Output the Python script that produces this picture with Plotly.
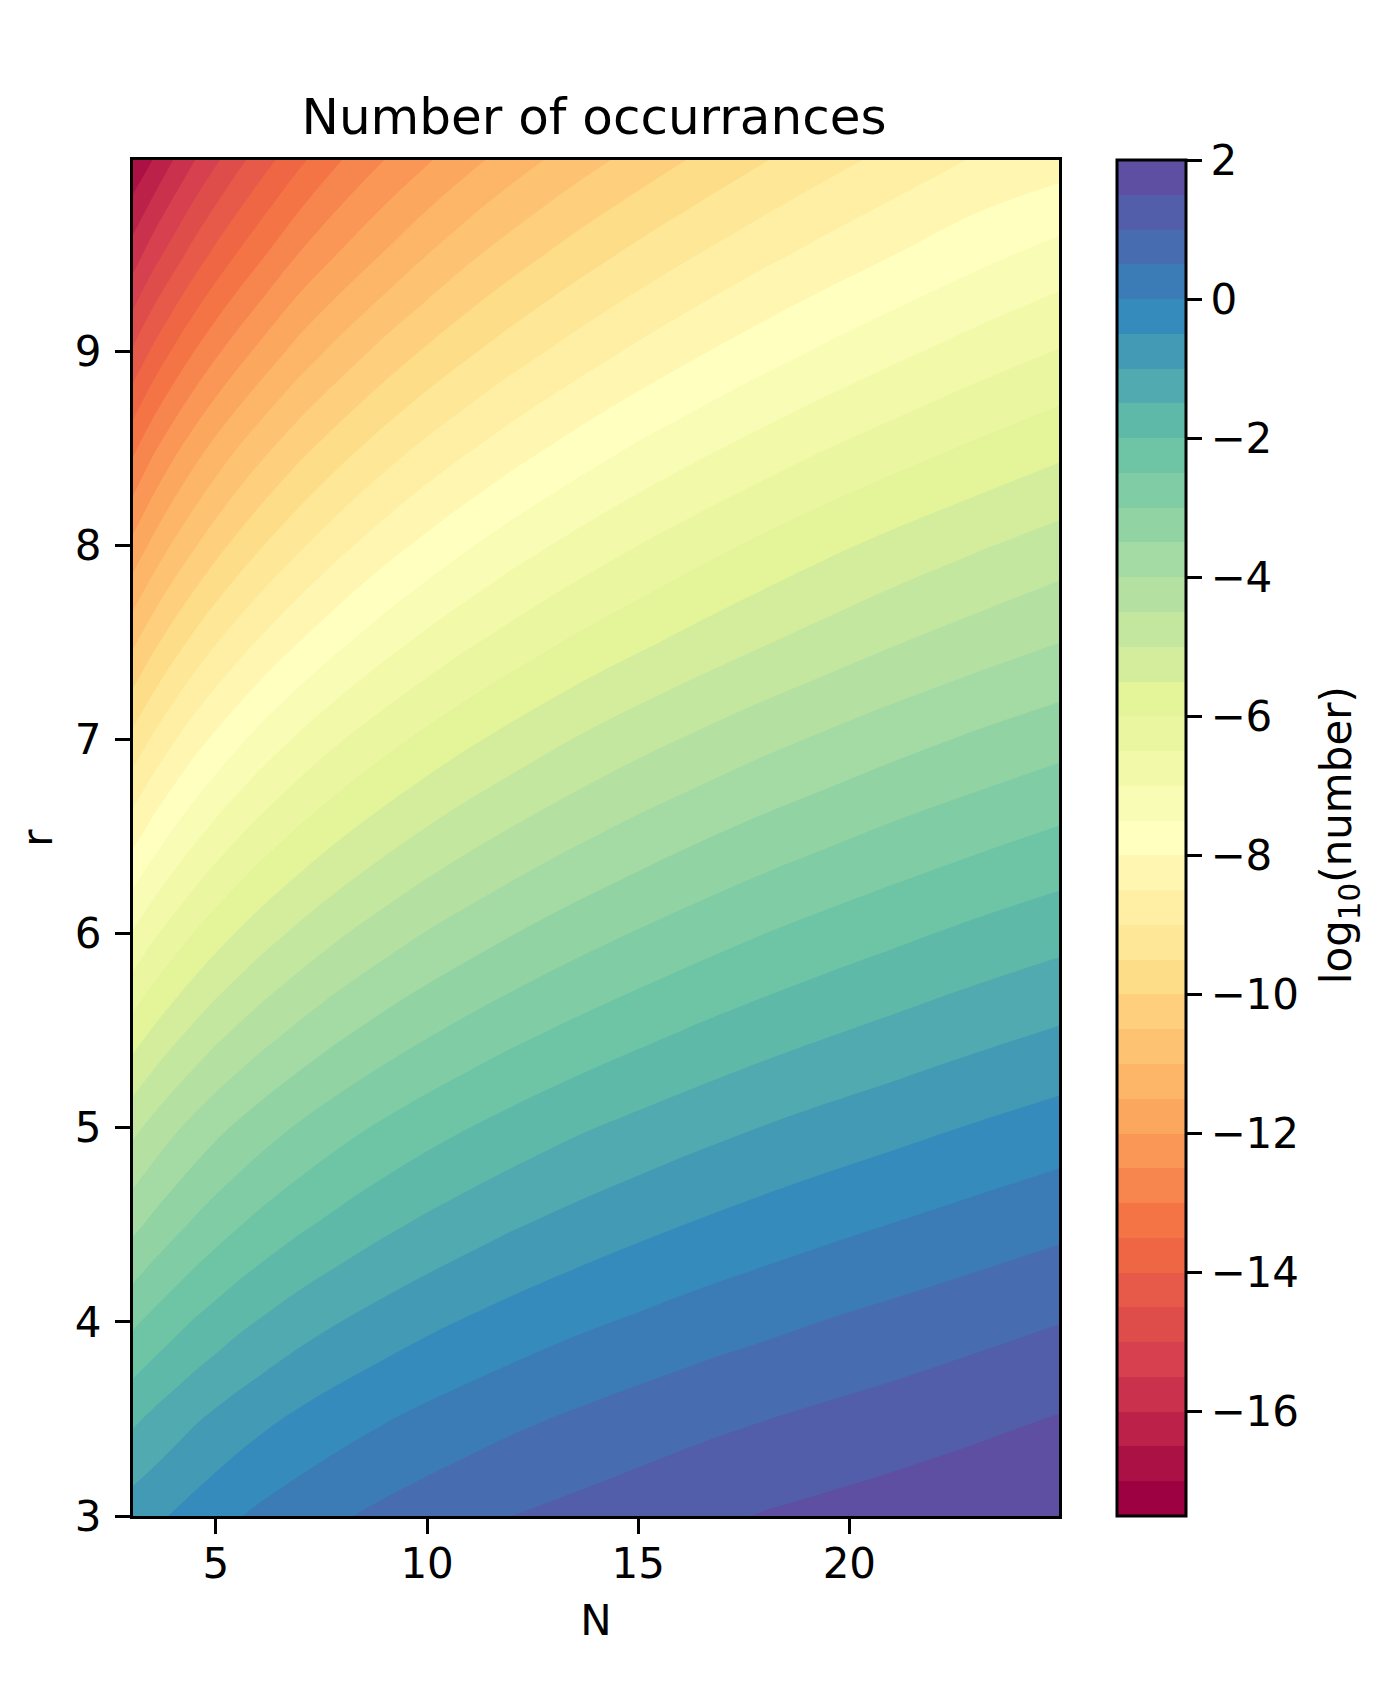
import plotly.graph_objects as go
import plotly.colors as pc

N_values = [3, 3.5, 4, 4.5, 5, 5.5, 6, 7, 8, 9, 10, 11, 12, 13.5, 15, 16.5, 18, 19.5, 21, 23, 25]
r_values = [3, 3.5, 4, 4.5, 5, 5.5, 6, 6.5, 7, 7.5, 8, 8.5, 9, 9.5, 10]

z_r3_0 = [-0.75, -0.61, -0.46, -0.31, -0.17, -0.03, 0.09, 0.29, 0.46, 0.62, 0.76, 0.88, 1.00, 1.14, 1.27, 1.40, 1.53, 1.63, 1.73, 1.85, 1.98]
z_r3_5 = [-1.60, -1.40, -1.22, -1.05, -0.90, -0.76, -0.63, -0.40, -0.20, -0.03, 0.13, 0.27, 0.40, 0.57, 0.73, 0.87, 0.99, 1.11, 1.22, 1.38, 1.53]
z_r4_0 = [-2.60, -2.37, -2.16, -1.96, -1.79, -1.62, -1.48, -1.21, -0.99, -0.79, -0.61, -0.45, -0.30, -0.10, 0.07, 0.24, 0.38, 0.52, 0.65, 0.82, 0.99]
z_r4_5 = [-3.65, -3.38, -3.14, -2.92, -2.72, -2.54, -2.37, -2.08, -1.83, -1.60, -1.40, -1.22, -1.05, -0.83, -0.63, -0.45, -0.28, -0.13, 0.01, 0.20, 0.38]
z_r5_0 = [-4.65, -4.35, -4.08, -3.84, -3.62, -3.43, -3.25, -2.93, -2.65, -2.41, -2.19, -2.00, -1.82, -1.57, -1.36, -1.16, -0.98, -0.81, -0.66, -0.46, -0.27]
z_r5_5 = [-5.80, -5.46, -5.16, -4.90, -4.65, -4.44, -4.24, -3.89, -3.58, -3.31, -3.07, -2.85, -2.65, -2.39, -2.15, -1.93, -1.73, -1.55, -1.38, -1.16, -0.96]
z_r6_0 = [-6.98, -6.60, -6.27, -5.97, -5.71, -5.47, -5.25, -4.87, -4.53, -4.24, -3.97, -3.74, -3.52, -3.22, -2.96, -2.72, -2.50, -2.30, -2.12, -1.88, -1.67]
z_r6_5 = [-8.18, -7.76, -7.40, -7.08, -6.79, -6.53, -6.29, -5.87, -5.51, -5.19, -4.90, -4.64, -4.41, -4.09, -3.80, -3.54, -3.30, -3.09, -2.88, -2.64, -2.41]
z_r7_0 = [-9.38, -8.93, -8.54, -8.19, -7.89, -7.61, -7.35, -6.90, -6.51, -6.17, -5.86, -5.58, -5.33, -4.98, -4.67, -4.40, -4.14, -3.91, -3.69, -3.42, -3.18]
z_r7_5 = [-10.62, -10.14, -9.72, -9.35, -9.02, -8.73, -8.46, -7.98, -7.56, -7.19, -6.86, -6.56, -6.29, -5.92, -5.60, -5.30, -5.03, -4.78, -4.54, -4.26, -4.00]
z_r8_0 = [-11.90, -11.38, -10.93, -10.54, -10.18, -9.86, -9.57, -9.06, -8.61, -8.21, -7.86, -7.54, -7.24, -6.85, -6.50, -6.18, -5.88, -5.61, -5.36, -5.06, -4.78]
z_r8_5 = [-13.15, -12.60, -12.13, -11.71, -11.34, -11.00, -10.69, -10.14, -9.67, -9.25, -8.87, -8.54, -8.23, -7.81, -7.43, -7.10, -6.79, -6.50, -6.24, -5.92, -5.62]
z_r9_0 = [-14.47, -13.92, -13.43, -12.99, -12.59, -12.23, -11.90, -11.29, -10.79, -10.33, -9.93, -9.57, -9.24, -8.80, -8.40, -8.04, -7.71, -7.41, -7.13, -6.78, -6.47]
z_r9_5 = [-15.80, -15.23, -14.75, -14.28, -13.86, -13.48, -13.13, -12.46, -11.93, -11.46, -11.01, -10.60, -10.25, -9.78, -9.36, -8.98, -8.63, -8.31, -8.02, -7.65, -7.32]
z_r10_0 = [-16.98, -16.54, -16.02, -15.54, -15.11, -14.70, -14.32, -13.63, -13.02, -12.52, -12.09, -11.68, -11.29, -10.78, -10.34, -9.93, -9.55, -9.20, -8.88, -8.48, -8.24]

z_grid = [z_r3_0, z_r3_5, z_r4_0, z_r4_5, z_r5_0, z_r5_5, z_r6_0, z_r6_5,
          z_r7_0, z_r7_5, z_r8_0, z_r8_5, z_r9_0, z_r9_5, z_r10_0]

x_ticks = [5, 10, 15, 20]
y_ticks = [3, 4, 5, 6, 7, 8, 9]
cbar_ticks = [-16, -14, -12, -10, -8, -6, -4, -2, 0, 2]

# The page adds an 8px body margin around the figure
PAGE_W, PAGE_H, BODY = 1383, 1683, 8
W, H = PAGE_W - 2 * BODY, PAGE_H - 2 * BODY
LEFT, RIGHT, TOP, BOTTOM = 132.5, 1059.5, 160, 1516
CB_LEFT, CB_W = 1118, 69
FONT = "DejaVu Sans"
TICK_SIZE = 42
PW, PH = RIGHT - LEFT, BOTTOM - TOP

# Stepped Spectral colourscale: one flat colour per 0.5-wide band
n_bands = 39
stops = []
for i in range(n_bands):
    c = pc.sample_colorscale(pc.diverging.Spectral, i / (n_bands - 1))[0]
    stops.append([i / n_bands, c])
    stops.append([(i + 1) / n_bands, c])

axis = dict(
    showgrid=False, zeroline=False, showline=True, mirror=True,
    linecolor="black", linewidth=3, ticks="outside", ticklen=15,
    tickwidth=3, tickcolor="black", automargin=False,
    tickfont=dict(family=FONT, size=TICK_SIZE, color="black"),
)

fig = go.Figure(go.Contour(
    x=N_values, y=r_values, z=z_grid,
    colorscale=stops, zmin=-17.5, zmax=2,
    autocontour=False,
    contours=dict(start=-17.5, end=2, size=0.5, coloring="fill", showlines=False),
    line=dict(width=0, smoothing=1),
    hoverinfo="skip",
    colorbar=dict(
        thickness=CB_W, thicknessmode="pixels",
        len=1, lenmode="fraction",
        x=(CB_LEFT - LEFT) / PW, xanchor="left", xpad=0,
        y=0.5, yanchor="middle", ypad=0,
        outlinecolor="black", outlinewidth=3,
        ticks="outside", ticklen=15, tickwidth=3, tickcolor="black",
        tickvals=cbar_ticks,
        tickfont=dict(family=FONT, size=TICK_SIZE, color="black"),
    ),
))

fig.update_layout(
    width=W, height=H, autosize=False,
    margin=dict(l=LEFT - BODY, r=BODY + W - RIGHT, t=TOP - BODY, b=BODY + H - BOTTOM),
    paper_bgcolor="white", plot_bgcolor="white",
    font=dict(family=FONT, color="black"),
    title=dict(text="Number of occurrances", x=(594 - BODY) / W, xanchor="center",
               y=1 - (116 - BODY) / H, yanchor="middle",
               font=dict(family=FONT, size=50, color="black")),
    xaxis=dict(axis, range=[3.035, 24.965], tickvals=x_ticks, ticklabelstandoff=-6,
               title=dict(text="N", font=dict(family=FONT, size=42, color="black"), standoff=19)),
    yaxis=dict(axis, range=[3, 9.985], tickvals=y_ticks, ticklabelstandoff=5,
               title=dict(text="r", font=dict(family=FONT, size=42, color="black"), standoff=10)),
    annotations=[dict(
        text="log<sub>10</sub>(number)", textangle=-90, showarrow=False,
        xref="paper", yref="paper", x=(1340 - LEFT) / PW, y=(BOTTOM - 835) / PH,
        xanchor="center", yanchor="middle",
        font=dict(family=FONT, size=42, color="black"),
    )],
)

fig.write_html("out.html")
